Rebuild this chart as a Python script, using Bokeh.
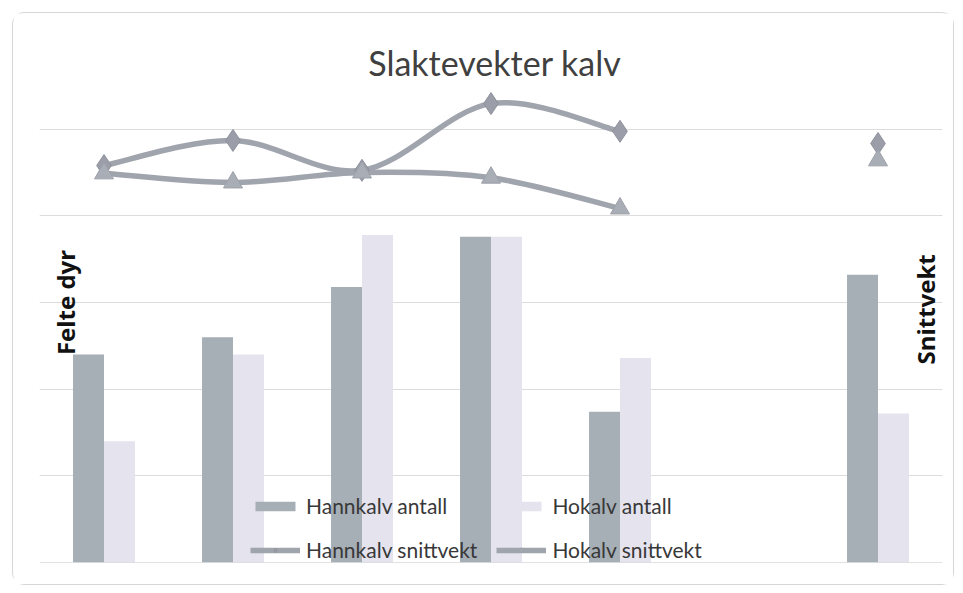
import numpy as np
from bokeh.plotting import figure
from bokeh.models import Range1d, FixedTicker, Legend, LegendItem, Label, Span, ColumnDataSource
from bokeh.transform import dodge
from bokeh.embed import file_html
from bokeh.resources import INLINE

# ---- data ----
categories = ["1", "2", "3", "4", "5", "6", "7"]
hann_antall = [12.0, 13.0, 15.9, 18.8, 8.7, np.nan, 16.6]
ho_antall = [7.0, 12.0, 18.9, 18.8, 11.8, np.nan, 8.6]
hann_snittvekt = [91.6, 97.4, 90.5, 105.9, 99.5, np.nan, 96.7]
ho_snittvekt = [89.8, 87.7, 90.0, 88.8, 81.7, np.nan, 92.8]
left_ticks = [0, 5, 10, 15, 20, 25, 30]
right_max = 120

xs = list(range(1, len(categories) + 1))

p = figure(width=942, height=573, output_backend="svg", toolbar_location=None,
           x_range=Range1d(0.5, len(categories) + 0.5),
           y_range=Range1d(left_ticks[0], left_ticks[-1]),
           min_border_left=26, min_border_right=13, min_border_top=29, min_border_bottom=24,
           styles={"border": "1px solid #d6d6d6", "border-radius": "12px",
                   "margin-left": "12px", "margin-top": "12px"})
p.extra_y_ranges = {"right": Range1d(0, right_max)}
p.outline_line_color = None
p.xaxis.visible = False
p.yaxis.visible = False
p.yaxis.ticker = FixedTicker(ticks=left_ticks)
p.xgrid.grid_line_color = None
p.ygrid.grid_line_color = "#dcdcdc"
p.ygrid.grid_line_width = 1
p.add_layout(Span(location=0, dimension="width", line_color="#c4c4c4", line_width=1))

src = ColumnDataSource(dict(x=xs, hann=hann_antall, ho=ho_antall,
                            hs=hann_snittvekt, hos=ho_snittvekt))

r_hann = p.vbar(x=dodge("x", -0.12, range=p.x_range), top="hann", width=0.24, bottom=0,
                source=src, fill_color="#a6aeb6", line_color=None)
r_ho = p.vbar(x=dodge("x", 0.12, range=p.x_range), top="ho", width=0.24, bottom=0,
              source=src, fill_color="#e4e3ee", line_color=None)


def smooth_segments(x, y):
    x = np.asarray(x, float)
    y = np.asarray(y, float)
    out = dict(x0=[], y0=[], x1=[], y1=[], cx0=[], cy0=[], cx1=[], cy1=[])
    n = len(x)
    runs, cur = [], []
    for i in range(n):
        if np.isnan(y[i]):
            if cur:
                runs.append(cur)
            cur = []
        else:
            cur.append(i)
    if cur:
        runs.append(cur)
    for run in runs:
        if len(run) < 2:
            continue
        for k in range(len(run) - 1):
            i0 = run[max(k - 1, 0)]
            i1 = run[k]
            i2 = run[k + 1]
            i3 = run[min(k + 2, len(run) - 1)]
            out["x0"].append(x[i1]); out["y0"].append(y[i1])
            out["x1"].append(x[i2]); out["y1"].append(y[i2])
            out["cx0"].append(x[i1] + (x[i2] - x[i0]) / 6.0)
            out["cy0"].append(y[i1] + (y[i2] - y[i0]) / 6.0)
            out["cx1"].append(x[i2] - (x[i3] - x[i1]) / 6.0)
            out["cy1"].append(y[i2] - (y[i3] - y[i1]) / 6.0)
    return ColumnDataSource(out)


line_col = "#a0a4ad"
b_hann = p.bezier(x0="x0", y0="y0", x1="x1", y1="y1", cx0="cx0", cy0="cy0", cx1="cx1", cy1="cy1",
                  source=smooth_segments(xs, hann_snittvekt), y_range_name="right",
                  line_color=line_col, line_width=5.5)
b_ho = p.bezier(x0="x0", y0="y0", x1="x1", y1="y1", cx0="cx0", cy0="cy0", cx1="cx1", cy1="cy1",
                source=smooth_segments(xs, ho_snittvekt), y_range_name="right",
                line_color=line_col, line_width=5.5)
m_hann = p.scatter(x="x", y="hs", source=src, y_range_name="right", marker="diamond",
                   size=22, fill_color="#9b9ea8", line_color="#8e919b", line_width=1)
m_ho = p.scatter(x="x", y="hos", source=src, y_range_name="right", marker="triangle",
                 size=19, fill_color="#a9adb6", line_color="#9da1aa", line_width=1)

legend = Legend(items=[
    LegendItem(label="Hannkalv antall", renderers=[r_hann]),
    LegendItem(label="Hokalv antall", renderers=[r_ho]),
    LegendItem(label="Hannkalv snittvekt", renderers=[b_hann, m_hann]),
    LegendItem(label="Hokalv snittvekt", renderers=[b_ho, m_ho]),
], location=(211, 0), orientation="horizontal", ncols=2,
    background_fill_alpha=0, border_line_color=None, padding=0, margin=0,
    glyph_width=50, glyph_height=12, label_standoff=6, spacing=19,
    label_text_font="Lato", label_text_font_size="21px", label_text_color="#383838",
    label_height=20)
p.add_layout(legend)

p.add_layout(Label(x=4.03, y=28.85, text="Slaktevekter kalv", text_align="center",
                   text_baseline="middle", text_font="Lato", text_font_size="34px",
                   text_color="#404040"))
p.add_layout(Label(x=0.70, y=15.0, text="Felte dyr", angle=np.pi / 2, text_align="center",
                   text_baseline="middle", text_font="Open Sans", text_font_style="bold",
                   text_font_size="24px", text_color="#111111"))
p.add_layout(Label(x=7.37, y=14.6, text="Snittvekt", angle=np.pi / 2, text_align="center",
                   text_baseline="middle", text_font="Open Sans", text_font_style="bold",
                   text_font_size="24px", text_color="#111111"))

open("out.html", "w").write(file_html(p, INLINE))
